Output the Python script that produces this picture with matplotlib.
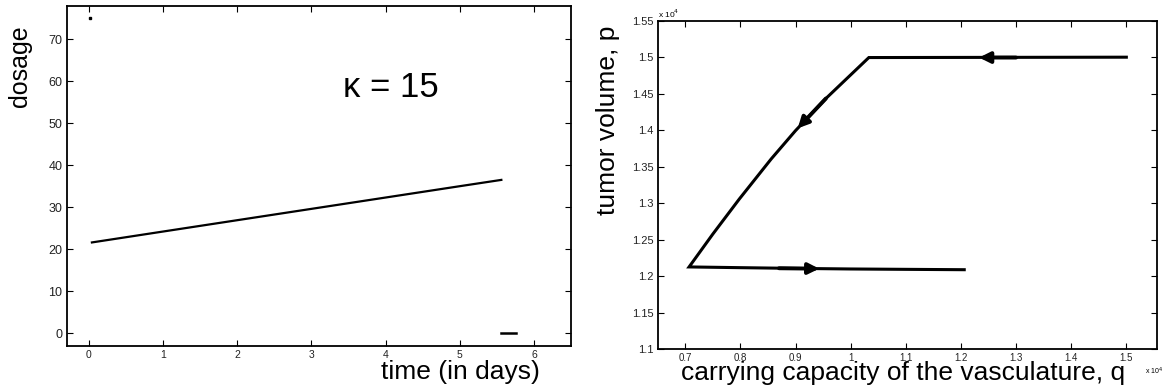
import matplotlib
matplotlib.use('Agg')
import matplotlib.pyplot as plt

plt.rcParams['font.family'] = ['Liberation Sans', 'DejaVu Sans']

# left panel: dosage vs time
t_line = [0.04, 1.0, 2.0, 3.0, 4.0, 5.0, 5.56]
dose_line = [21.6, 24.2, 26.9, 29.6, 32.3, 35.0, 36.5]
t_dot = [0.02]
dose_dot = [75]
t_dash = [5.56, 5.76]
dose_dash = [0, 0]
kappa_label = 'κ = 15'

# right panel: phase path (units of 1e4)
q_path = [1.5, 1.033, 0.955, 0.9, 0.856, 0.798, 0.75, 0.707, 0.8, 0.9, 1.0, 1.1, 1.206]
p_path = [1.5, 1.4995, 1.4433, 1.3993, 1.3606, 1.3055, 1.2575, 1.2125, 1.2115, 1.2105, 1.2097, 1.2092, 1.2087]
# arrows: (tail, tip)
arrows = [((1.30, 1.4995), (1.233, 1.4995)),
          ((0.955, 1.4433), (0.904, 1.4025)),
          ((0.87, 1.2107), (0.943, 1.2101))]

fig = plt.figure(figsize=(11.64, 3.9), dpi=100)

ax1 = fig.add_axes([0.0573, 0.1136, 0.4333, 0.8718])
ax1.plot(t_line, dose_line, color='k', lw=1.6)
ax1.plot(t_dot, dose_dot, 's', color='k', ms=1.8)
ax1.plot(t_dash, dose_dash, color='k', lw=1.8)
ax1.text(3.42, 58.4, kappa_label, fontsize=25, ha='left', va='center')
ax1.set_xlim(-0.3, 6.5)
ax1.set_ylim(-3, 78)
ax1.set_xticks(range(0, 7))
ax1.set_yticks(range(0, 80, 10))
ax1.tick_params(axis='x', labelsize=7.5)
ax1.tick_params(axis='y', labelsize=9)

ax2 = fig.add_axes([0.565, 0.1051, 0.4287, 0.8418])
ax2.plot(q_path, p_path, color='k', lw=2.2, solid_joinstyle='miter')
for tail, tip in arrows:
    ax2.annotate('', xy=tip, xytext=tail,
                 arrowprops=dict(arrowstyle='-|>', color='k', lw=2.8,
                                 mutation_scale=16, shrinkA=0, shrinkB=0))
ax2.set_xlim(0.65, 1.555)
ax2.set_ylim(1.1, 1.55)
ax2.set_xticks([0.7, 0.8, 0.9, 1.0, 1.1, 1.2, 1.3, 1.4, 1.5])
ax2.set_xticklabels(['0.7', '0.8', '0.9', '1', '1.1', '1.2', '1.3', '1.4', '1.5'])
ax2.set_yticks([1.1, 1.15, 1.2, 1.25, 1.3, 1.35, 1.4, 1.45, 1.5, 1.55])
ax2.set_yticklabels(['1.1', '1.15', '1.2', '1.25', '1.3', '1.35', '1.4', '1.45', '1.5', '1.55'])
ax2.tick_params(axis='x', labelsize=7)
ax2.tick_params(axis='y', labelsize=8)

for ax in (ax1, ax2):
    ax.tick_params(direction='in', length=4, width=0.8, top=True, right=True,
                   labelcolor='#222222', pad=3)
    for s in ax.spines.values():
        s.set_linewidth(1.3)

fig.text(20 / 1164, 1 - 66 / 390, 'dosage', rotation=90, fontsize=18, ha='center', va='center')
fig.text(460 / 1164, 1 - 372 / 390, 'time (in days)', fontsize=19, ha='center', va='center')
fig.text(608 / 1164, 1 - 120 / 390, 'tumor volume, p', rotation=90, fontsize=19, ha='center', va='center')
fig.text(903 / 1164, 1 - 373 / 390, 'carrying capacity of the vasculature, q', fontsize=19,
         ha='center', va='center')
fig.text(658 / 1164, 1 - 14 / 390, r'x 10$^{4}$', fontsize=6, ha='left', va='center')
fig.text(1145 / 1164, 1 - 371 / 390, r'x 10$^{4}$', fontsize=5, ha='left', va='center')

fig.savefig('out.png', dpi=100)
